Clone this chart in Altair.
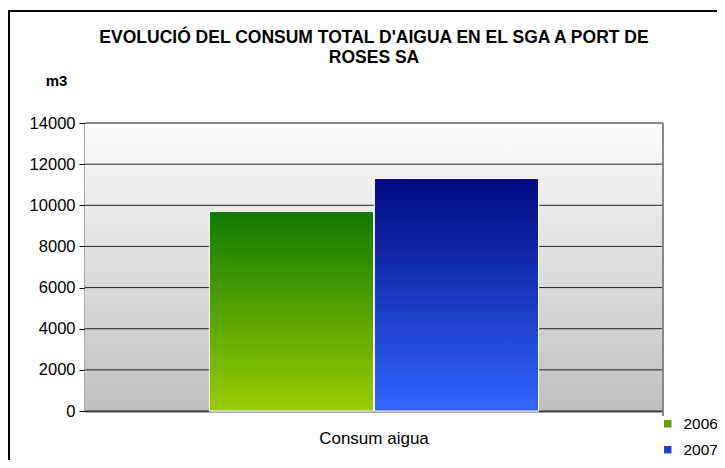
import altair as alt
import pandas as pd

categories = ["Consum aigua", "Consum aigua"]
years = ["2006", "2007"]
values = [9700, 11300]
grid_values = [0, 2000, 4000, 6000, 8000, 10000, 12000, 14000]

title_lines = ["EVOLUCIÓ DEL CONSUM TOTAL D'AIGUA EN EL SGA A PORT DE", "ROSES SA"]

df = pd.DataFrame({"cat": categories, "year": years, "value": values})
gdf = pd.DataFrame({"g": grid_values})

W, H = 578, 288
FONT = "Liberation Sans"

def vgrad(top, bottom):
    return {"gradient": "linear", "x1": 0, "y1": 0, "x2": 0, "y2": 1,
            "stops": [{"offset": 0, "color": top}, {"offset": 1, "color": bottom}]}

y_scale = alt.Scale(domain=[0, 14000], nice=False)
x_enc = alt.X("cat:N", title=None, scale=alt.Scale(paddingInner=0, paddingOuter=0.378),
              axis=alt.Axis(labelAngle=0, ticks=False, labelPadding=19, labelFontSize=17,
                            labelFont=FONT, labelColor="#000", domainColor="#555", domainWidth=2))
xo_enc = alt.XOffset("year:N", scale=alt.Scale(domain=years, paddingInner=0.005))
y_enc = alt.Y("value:Q", scale=y_scale, title="m3",
              axis=alt.Axis(values=grid_values, grid=False, format="d", labelFontSize=16.5,
                            labelFont=FONT, labelColor="#000", tickSize=6, tickColor="#000",
                            domainColor="#555", domainWidth=2, labelPadding=4,
                            titleAngle=0, titleX=-29, titleY=-43, titleAlign="center",
                            titleBaseline="middle", titleFont=FONT, titleFontSize=15,
                            titleFontWeight="bold", titleColor="#000"))

bg = alt.Chart(gdf).mark_rect(fill=vgrad("#fbfbfb", "#c0c0c0")).encode(
    x=alt.value(0), x2=alt.value(W), y=alt.value(0), y2=alt.value(H)
).transform_filter("datum.g == 0")

grid = alt.Chart(gdf).mark_rule(color="#222", strokeWidth=1).encode(
    y=alt.Y("g:Q", scale=y_scale), x=alt.value(0), x2=alt.value(W)
)
topline = alt.Chart(gdf).transform_filter("datum.g == 14000").mark_rule(color="#888", strokeWidth=2).encode(
    y=alt.Y("g:Q", scale=y_scale), x=alt.value(0), x2=alt.value(W)
)

legend_bars = alt.Chart(df).mark_bar(stroke="white", strokeWidth=1).encode(
    x=x_enc, xOffset=xo_enc, y=y_enc,
    color=alt.Color("year:N", scale=alt.Scale(domain=years, range=["#5aa000", "#2244cc"]),
                    legend=alt.Legend(title=None, orient="none", legendX=575, legendY=293,
                                      symbolType="square", symbolSize=56, symbolStrokeWidth=0,
                                      labelFontSize=15.5, labelFont=FONT, labelColor="#000",
                                      labelOffset=8, rowPadding=9, padding=0))
)

bar06 = alt.Chart(df).transform_filter("datum.year == '2006'").mark_bar(
    fill=vgrad("#117a00", "#99cc00"), stroke="white", strokeWidth=1
).encode(x=x_enc, xOffset=xo_enc, y=y_enc)

bar07 = alt.Chart(df).transform_filter("datum.year == '2007'").mark_bar(
    fill=vgrad("#000a80", "#3366ff"), stroke="white", strokeWidth=1
).encode(x=x_enc, xOffset=xo_enc, y=y_enc)

right_line = alt.Chart(gdf).transform_filter("datum.g == 0").mark_rule(color="#888", strokeWidth=2).encode(
    x=alt.value(W), y=alt.value(0), y2=alt.value(H + 5)
)

border_left = alt.Chart(gdf).transform_filter("datum.g == 0").mark_rule(color="#000", strokeWidth=2).encode(
    x=alt.value(-76), y=alt.value(-112), y2=alt.value(400)
)
border_top = alt.Chart(gdf).transform_filter("datum.g == 0").mark_rule(color="#000", strokeWidth=2).encode(
    y=alt.value(-112), x=alt.value(-77), x2=alt.value(700)
)

title = alt.Chart(gdf).transform_filter("datum.g == 0").mark_text(
    text=title_lines, font=FONT, fontSize=17.5, fontWeight="bold", color="#000",
    lineHeight=20, align="center", baseline="top"
).encode(x=alt.value(W / 2), y=alt.value(-94))

chart = alt.layer(bg, grid, topline, legend_bars, bar06, bar07, right_line,
                  border_left, border_top, title).properties(
    width=W, height=H,
    autosize=alt.AutoSizeParams(type="none"),
    padding={"left": 77, "top": 115, "right": 54, "bottom": 49},
).configure_view(stroke=None).configure(background="white")

chart.save("out.html", embed_options={"renderer": "svg", "actions": False})
